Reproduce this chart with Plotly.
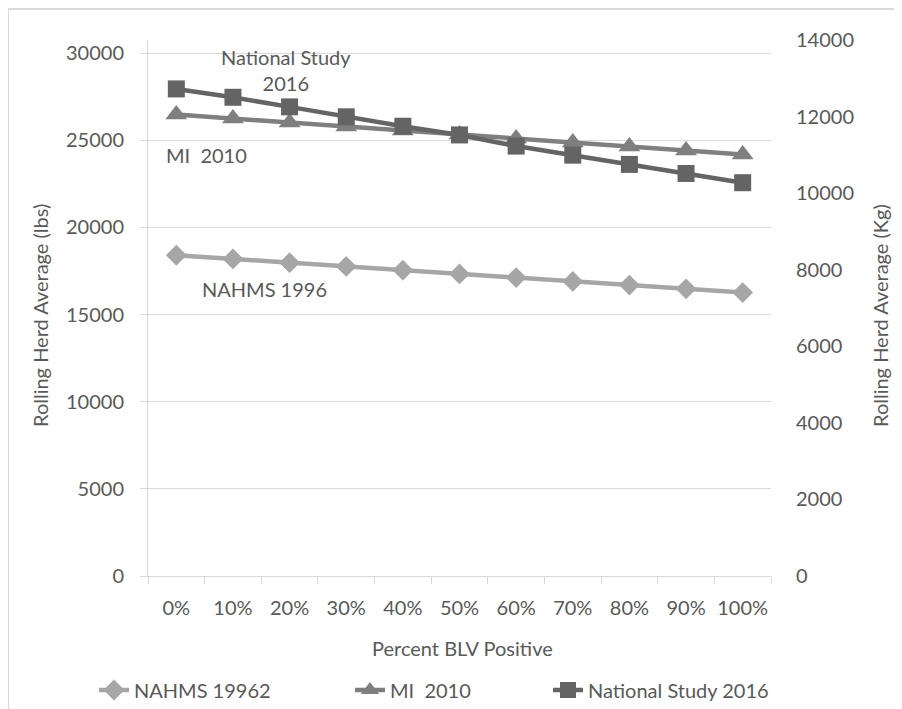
import plotly.graph_objects as go

categories = ["0%", "10%", "20%", "30%", "40%", "50%", "60%", "70%", "80%", "90%", "100%"]
nahms_1996 = [18400, 18190, 17970, 17760, 17540, 17330, 17120, 16900, 16690, 16470, 16260]
mi_2010 = [26470, 26240, 26010, 25780, 25560, 25330, 25100, 24870, 24640, 24410, 24180]
national_2016 = [27940, 27460, 26910, 26340, 25800, 25300, 24660, 24140, 23610, 23090, 22560]

left_ticks = [0, 5000, 10000, 15000, 20000, 25000, 30000]
right_ticks = [0, 2000, 4000, 6000, 8000, 10000, 12000, 14000]

FONT = "Lato, 'Open Sans', sans-serif"
TXT = "#595959"
GRID = "#d9d9d9"
FS = 20

OFF = 8  # page body margin
W, H = 902 - OFF, 709 - OFF
# plot area in page pixels
PL, PR, PT, PB = 148, 771, 40, 576
L, R, T, B = PL - OFF, PR - OFF, PT - OFF, PB - OFF

def px(x):
    return (x - OFF - L) / (R - L)

def py(y):
    return (B - (y - OFF)) / (B - T)

def cx(x):
    return (x - OFF) / W

def cy(y):
    return 1 - (y - OFF) / H

fig = go.Figure()
fig.add_trace(go.Scatter(x=categories, y=nahms_1996, name="NAHMS 19962", mode="lines+markers",
                         line=dict(color="#a6a6a6", width=4.5), legend="legend",
                         marker=dict(symbol="diamond", size=16, color="#a6a6a6")))
fig.add_trace(go.Scatter(x=categories, y=mi_2010, name="MI\u00a0 2010", mode="lines+markers",
                         line=dict(color="#7f7f7f", width=4.5), legend="legend2",
                         marker=dict(symbol="triangle-up", size=19, color="#7f7f7f")))
fig.add_trace(go.Scatter(x=categories, y=national_2016, name="National Study 2016", mode="lines+markers",
                         line=dict(color="#646464", width=4.5), legend="legend3",
                         marker=dict(symbol="square", size=17, color="#646464")))
# empty trace so the secondary (kg) axis is drawn
fig.add_trace(go.Scatter(x=[], y=[], yaxis="y2", showlegend=False, hoverinfo="skip"))

left_max = 30000 * (PB - PT) / (PB - 53)

def leg(xpage):
    return dict(orientation="h", xref="container", yref="container",
                x=cx(xpage), xanchor="left", y=cy(690), yanchor="middle",
                font=dict(size=FS, color=TXT, family=FONT), bgcolor="rgba(0,0,0,0)",
                borderwidth=0)

fig.update_layout(
    width=W, height=H,
    margin=dict(l=L, r=W - R, t=T, b=H - B, pad=0, autoexpand=False),
    paper_bgcolor="white", plot_bgcolor="white",
    font=dict(family=FONT, size=FS, color=TXT),
    showlegend=True,
    legend=leg(94), legend2=leg(350), legend3=leg(548),
    xaxis=dict(type="category", range=[-0.5, 10.5], showgrid=False, showline=True,
               linecolor=GRID, linewidth=1, ticks="outside", ticklen=7, tickcolor=GRID,
               tickson="boundaries", tickangle=0, ticklabelstandoff=14,
               tickfont=dict(size=FS, color=TXT), fixedrange=True),
    yaxis=dict(range=[0, left_max], tickvals=left_ticks, ticktext=[str(v) for v in left_ticks],
               showgrid=True, gridcolor=GRID, gridwidth=1, showline=True, linecolor=GRID,
               ticks="outside", ticklen=7, tickcolor=GRID, ticklabelstandoff=12,
               zeroline=False, tickfont=dict(size=FS, color=TXT)),
    yaxis2=dict(range=[0, 14000], tickvals=right_ticks, ticktext=[str(v) for v in right_ticks],
                overlaying="y", side="right", showgrid=False, showline=False, zeroline=False,
                ticks="", ticklabelstandoff=24, tickfont=dict(size=FS, color=TXT)),
)

annotations = [
    dict(text="National Study<br>2016", x=px(286), y=py(70)),
    dict(text="MI\u00a0 2010", x=px(206), y=py(155)),
    dict(text="NAHMS 1996", x=px(264), y=py(289)),
    dict(text="Percent BLV Positive", x=px(462), y=py(648)),
    dict(text="Rolling Herd Average (lbs)", x=px(40), y=py(316), textangle=-90),
    dict(text="Rolling Herd Average (Kg)", x=px(880), y=py(316), textangle=-90),
]
for a in annotations:
    fig.add_annotation(xref="paper", yref="paper", showarrow=False, xanchor="center", yanchor="middle",
                       font=dict(size=FS, color=TXT, family=FONT), **a)

# chart frame (top and left edges)
fig.add_shape(type="line", xref="paper", yref="paper", x0=px(8), x1=px(902), y0=py(9), y1=py(9),
              line=dict(color=GRID, width=2))
fig.add_shape(type="line", xref="paper", yref="paper", x0=px(8), x1=px(8), y0=py(9), y1=py(709),
              line=dict(color=GRID, width=2))

fig.write_html("out.html")
